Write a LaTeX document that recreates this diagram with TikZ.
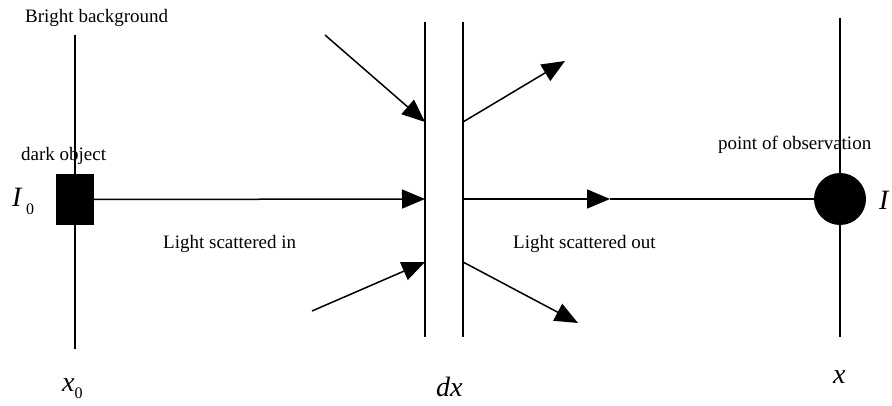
\documentclass[tikz,border=0pt]{standalone}
\usepackage{fontspec}
\setmainfont{Liberation Serif}
\usetikzlibrary{arrows.meta}
\begin{document}
\begin{tikzpicture}[x=1pt,y=-1pt,
  ln/.style={line width=1.5pt},
  arr/.style={ln,-{Triangle[length=23pt,width=19pt]}},
  lbl/.style={inner sep=0pt,anchor=base west,font=\fontsize{19}{22}\selectfont},
  mth/.style={inner sep=0pt,anchor=base west,font=\fontsize{28}{30}\selectfont\itshape}]
\useasboundingbox (0,0) rectangle (892,406);
% coordinates
\coordinate (ltop) at (75,35);
\coordinate (lbot) at (75,349);
\coordinate (rtop) at (840,18);
\coordinate (rbot) at (840,337);
\coordinate (s1top) at (425,22);
\coordinate (s1bot) at (425,337);
\coordinate (s2top) at (463,22);
\coordinate (s2bot) at (463,337);
\coordinate (s1mid) at (425,199);
\coordinate (s2mid) at (463,199);
\coordinate (s1u) at (425,122);
\coordinate (s2u) at (463,122);
\coordinate (s1d) at (425,262);
\coordinate (s2d) at (463,262);
\coordinate (a1) at (325,35);
\coordinate (a2) at (565,61);
\coordinate (a3) at (312,311);
\coordinate (a4) at (578,323);
\coordinate (hm) at (610,199);
% vertical lines
\draw[ln] (ltop) -- (lbot);
\draw[ln] (rtop) -- (rbot);
\draw[ln] (s1top) -- (s1bot);
\draw[ln] (s2top) -- (s2bot);
% objects
\node[fill=black,draw=none,minimum width=38pt,minimum height=51pt,inner sep=0pt] (obj) at (75,199.5) {};
\node[circle,fill=black,draw=none,minimum size=52pt,inner sep=0pt] (obs) at (840,199) {};
% connectors
\draw[arr] (obj.east) -- (s1mid);
\draw[arr] (s2mid) -- (hm);
\draw[ln] (hm) -- (obs.west);
\draw[arr] (a1) -- (s1u);
\draw[arr] (s2u) -- (a2);
\draw[arr] (a3) -- (s1d);
\draw[arr] (s2d) -- (a4);
% labels
\node[lbl] (bb) at (25,23) {Bright background};
\node[lbl] (dob) at (21,161) {dark object};
\node[lbl] (lsi) at (163,249) {Light scattered in};
\node[lbl] (lso) at (513,249) {Light scattered out};
\node[lbl] (poo) at (718,150) {point of observation};
\node[mth] (I0) at (12,207) {I\,\raisebox{-8pt}{\fontsize{16}{16}\selectfont\upshape 0}};
\node[mth] (Ilab) at (879,210) {I};
\node[mth] (x0) at (62,391) {x\raisebox{-7pt}{\fontsize{16}{16}\selectfont\upshape 0}};
\node[mth] (dx) at (436,396) {dx};
\node[mth] (xlab) at (833,383) {x};
\end{tikzpicture}
\end{document}
